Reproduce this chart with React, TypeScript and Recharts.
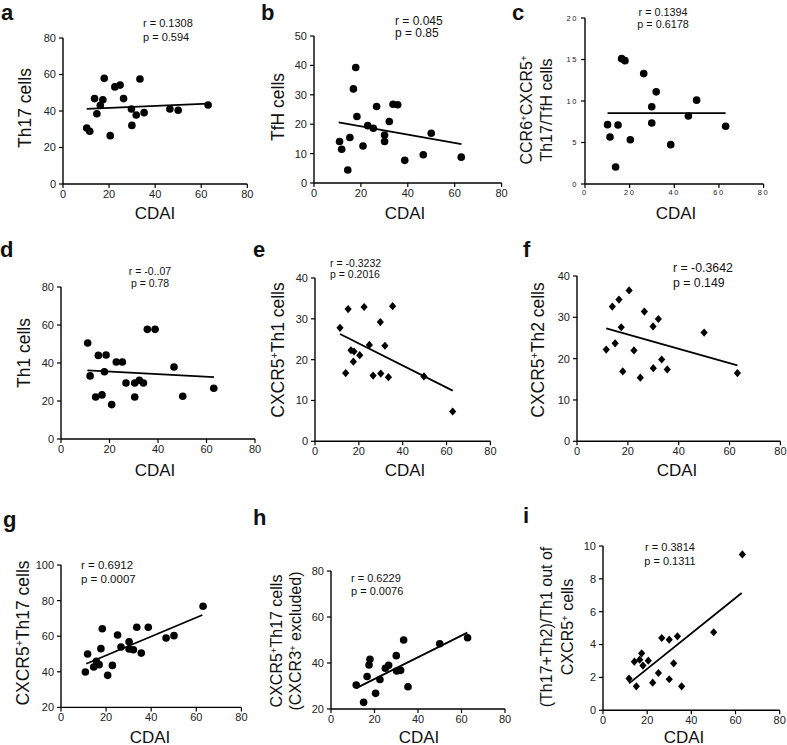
import React from 'react';
import { ScatterChart, Scatter, XAxis, YAxis, ZAxis, ReferenceLine } from 'recharts';

// ---------- data ----------
const cdaiA = [10.3, 11.6, 13.7, 14.7, 16.2, 17.3, 17.9, 20.5, 22.5, 24.8, 26.3, 29.7, 29.9, 31.8, 33.4, 35.2, 46.4, 50.0, 63.0];
const th17A = [30.7, 28.9, 46.8, 38.5, 43.1, 46.2, 57.9, 26.5, 53.2, 54.2, 46.8, 41.1, 32.1, 37.8, 57.5, 39.1, 41.1, 40.4, 43.3];
const fitA = [[10.3, 41.2], [63.0, 44.0]];

const cdaiB = [10.9, 11.8, 14.4, 15.3, 16.8, 17.8, 18.3, 20.9, 22.9, 25.3, 26.7, 30.1, 30.1, 32.1, 33.7, 35.7, 38.7, 46.6, 50.0, 62.8];
const tfhB = [14.1, 11.5, 4.4, 15.5, 32.0, 39.3, 22.6, 12.6, 19.5, 18.6, 26.0, 16.3, 14.1, 20.9, 26.8, 26.6, 7.7, 9.6, 16.9, 8.8];
const fitB = [[10.5, 20.6], [62.9, 13.2]];

const cdaiC = [10.1, 11.2, 13.7, 14.8, 16.4, 17.9, 20.3, 26.3, 29.9, 29.9, 31.9, 38.4, 46.3, 50.0, 63.0];
const ratioC = [7.15, 5.66, 2.05, 7.1, 15.1, 14.86, 5.34, 13.3, 9.3, 7.35, 11.1, 4.74, 8.2, 10.1, 6.95];
const fitC = [[10.1, 8.55], [63.0, 8.55]];

const cdaiD = [11.0, 12.0, 14.3, 15.4, 16.9, 17.9, 18.6, 20.9, 22.8, 25.3, 26.8, 30.4, 30.4, 32.3, 34.0, 35.6, 38.8, 46.6, 50.2, 63.0];
const th1D = [50.5, 33.2, 22.1, 44.0, 23.2, 35.4, 44.2, 18.1, 40.5, 40.5, 29.5, 29.5, 22.1, 30.9, 29.5, 57.7, 57.7, 37.9, 22.5, 26.7];
const fitD = [[10.9, 36.1], [63.1, 32.6]];

const cdaiE = [11.4, 14.0, 15.1, 16.4, 17.8, 17.5, 20.4, 22.4, 24.8, 26.5, 29.8, 30.0, 31.9, 33.5, 35.4, 49.7, 62.8];
const th1E = [27.8, 16.7, 32.4, 22.3, 22.0, 19.5, 21.1, 32.9, 23.6, 16.1, 29.2, 16.6, 23.4, 15.7, 33.1, 15.9, 7.3];
const fitE = [[11.4, 26.3], [62.8, 12.4]];

const cdaiF = [11.5, 13.9, 15.0, 16.5, 17.4, 18.0, 20.5, 22.4, 24.9, 26.5, 29.9, 30.0, 32.0, 33.3, 35.5, 50.0, 63.1];
const th2F = [22.2, 32.6, 23.7, 34.3, 27.6, 16.9, 36.5, 22.0, 15.4, 31.4, 27.8, 17.7, 29.6, 19.8, 17.4, 26.3, 16.5];
const fitF = [[11.5, 27.3], [63.1, 18.4]];

const cdaiG = [10.8, 11.8, 14.5, 15.7, 16.9, 17.7, 18.3, 20.7, 22.8, 25.1, 26.6, 30.2, 30.2, 32.1, 33.6, 35.6, 38.7, 46.6, 50.1, 63.0];
const th17G = [39.9, 50.0, 42.7, 45.9, 44.0, 53.0, 64.2, 38.0, 43.6, 60.7, 53.9, 56.9, 52.8, 52.4, 65.0, 50.5, 65.0, 59.0, 60.3, 76.8];
const fitG = [[11.2, 44.5], [62.7, 71.9]];

const cdaiH = [11.6, 15.0, 16.6, 17.5, 17.9, 20.5, 22.5, 25.0, 26.5, 30.0, 30.2, 32.0, 33.4, 35.4, 50.0, 62.8];
const th17H = [30.4, 22.9, 34.1, 39.1, 41.6, 26.8, 32.8, 37.7, 39.0, 43.2, 36.5, 36.8, 50.0, 29.7, 48.4, 51.0];
const fitH = [[11.6, 29.1], [62.7, 53.2]];

const cdaiI = [11.8, 14.2, 15.1, 16.6, 17.5, 18.1, 20.5, 22.5, 25.1, 26.6, 30.0, 30.0, 32.0, 33.7, 35.6, 50.1, 63.1];
const ratioI = [1.93, 2.96, 1.46, 3.08, 3.47, 2.72, 3.02, 1.68, 2.27, 4.40, 4.30, 1.89, 2.86, 4.50, 1.46, 4.75, 9.49];
const fitI = [[11.8, 1.64], [62.8, 7.14]];

const xTicks = [0, 20, 40, 60, 80];
const ticks0to80 = [0, 20, 40, 60, 80];
const ticks0to50 = [0, 10, 20, 30, 40, 50];
const ticks0to20 = [0, 5, 10, 15, 20];
const ticks0to40 = [0, 10, 20, 30, 40];
const ticks20to100 = [20, 40, 60, 80, 100];
const ticks20to80 = [20, 40, 60, 80];
const ticks0to10 = [0, 2, 4, 6, 8, 10];

const FONT = '"Liberation Sans", Arial, Helvetica, sans-serif';

const zip = (xs: number[], ys: number[]) => xs.map((x, i) => ({ x, y: ys[i] }));

const CircleShape = (p: any) => <circle cx={p.cx} cy={p.cy} r={3.8} fill="#000" />;
const DiamondShape = (p: any) => (
  <polygon
    points={`${p.cx},${p.cy - 4.1} ${p.cx + 3.6},${p.cy} ${p.cx},${p.cy + 4.1} ${p.cx - 3.6},${p.cy}`}
    fill="#000"
  />
);

type PanelProps = {
  l: number; t: number; w: number; h: number;
  xs: number[]; ys: number[]; fit: number[][];
  yDomain: [number, number]; yTicks: number[];
  diamond?: boolean; small?: boolean;
};

function Panel({ l, t, w, h, xs, ys, fit, yDomain, yTicks, diamond, small }: PanelProps) {
  const YW = 45, XH = 30, MT = 10, MR = 12;
  const tickStyle = small
    ? { fontSize: 7.5, fill: '#222', fontFamily: FONT, letterSpacing: 1.6 }
    : { fontSize: 11, fill: '#222', fontFamily: FONT };
  return (
    <div style={{ position: 'absolute', left: l - YW, top: t - MT }}>
      <ScatterChart width={w + YW + MR} height={h + MT + XH} margin={{ top: MT, right: MR, bottom: 0, left: 0 }}>
        <XAxis
          type="number" dataKey="x" domain={[0, 80]} ticks={xTicks} height={XH}
          axisLine={{ stroke: '#000', strokeWidth: 1.4 }} tickLine={{ stroke: '#000', strokeWidth: 1.2 }}
          tickSize={4} tickMargin={2} tick={tickStyle} interval={0}
        />
        <YAxis
          type="number" dataKey="y" domain={yDomain} ticks={yTicks} width={YW}
          axisLine={{ stroke: '#000', strokeWidth: 1.4 }} tickLine={{ stroke: '#000', strokeWidth: 1.2 }}
          tickSize={4} tickMargin={3} tick={tickStyle} interval={0}
        />
        <ZAxis range={[40, 40]} />
        <ReferenceLine
          segment={[{ x: fit[0][0], y: fit[0][1] }, { x: fit[1][0], y: fit[1][1] }]}
          stroke="#000" strokeWidth={1.8} ifOverflow="visible"
        />
        <Scatter data={zip(xs, ys)} fill="#000" shape={diamond ? DiamondShape : CircleShape} isAnimationActive={false} />
      </ScatterChart>
    </div>
  );
}

const abs = (x: number, y: number, extra: React.CSSProperties = {}): React.CSSProperties => ({
  position: 'absolute', left: x, top: y, whiteSpace: 'nowrap', fontFamily: FONT, color: '#111', lineHeight: 1, ...extra,
});

// centered text
const C = ({ x, y, size, children, bold }: any) => (
  <div style={abs(x, y, { fontSize: size, transform: 'translate(-50%,-50%)', fontWeight: bold ? 700 : 400 })}>{children}</div>
);
// left-aligned, vertically centered
const L = ({ x, y, size, children, bold }: any) => (
  <div style={abs(x, y, { fontSize: size, transform: 'translate(0,-50%)', fontWeight: bold ? 700 : 400 })}>{children}</div>
);
// rotated y label
const R = ({ x, y, size, children }: any) => (
  <div style={abs(x, y, { fontSize: size, transform: 'translate(-50%,-50%) rotate(-90deg)' })}>{children}</div>
);
const Sup = () => <sup style={{ fontSize: '0.6em', verticalAlign: '0.55em', lineHeight: 0 }}>+</sup>;

export default function App() {
  return (
    <div style={{ position: 'absolute', left: 0, top: 0, width: 787, height: 745, background: '#fff', overflow: 'hidden', fontFamily: FONT }}>
      <Panel l={62.7} t={38} w={184.3} h={146} xs={cdaiA} ys={th17A} fit={fitA} yDomain={[0, 80]} yTicks={ticks0to80} />
      <Panel l={313.7} t={35.7} w={187.6} h={147} xs={cdaiB} ys={tfhB} fit={fitB} yDomain={[0, 50]} yTicks={ticks0to50} />
      <Panel l={584.7} t={17.7} w={178.6} h={166} xs={cdaiC} ys={ratioC} fit={fitC} yDomain={[0, 20]} yTicks={ticks0to20} small />
      <Panel l={61} t={287.3} w={194} h={152} xs={cdaiD} ys={th1D} fit={fitD} yDomain={[0, 80]} yTicks={ticks0to80} />
      <Panel l={315.3} t={277.7} w={175.4} h={163.3} xs={cdaiE} ys={th1E} fit={fitE} yDomain={[0, 40]} yTicks={ticks0to40} diamond />
      <Panel l={577.3} t={275.7} w={203.4} h={165.3} xs={cdaiF} ys={th2F} fit={fitF} yDomain={[0, 40]} yTicks={ticks0to40} diamond />
      <Panel l={61.3} t={565.3} w={180.4} h={142.4} xs={cdaiG} ys={th17G} fit={fitG} yDomain={[20, 100]} yTicks={ticks20to100} />
      <Panel l={331.3} t={571} w={174} h={138} xs={cdaiH} ys={th17H} fit={fitH} yDomain={[20, 80]} yTicks={ticks20to80} />
      <Panel l={603} t={545.7} w={176.7} h={164.3} xs={cdaiI} ys={ratioI} fit={fitI} yDomain={[0, 10]} yTicks={ticks0to10} diamond />

      {/* panel letters */}
      <L x={1} y={13} size={22} bold>a</L>
      <L x={261} y={13} size={22} bold>b</L>
      <L x={512} y={13} size={22} bold>c</L>
      <L x={0} y={250} size={22} bold>d</L>
      <L x={253} y={250} size={22} bold>e</L>
      <L x={523} y={250} size={22} bold>f</L>
      <L x={3} y={520} size={22} bold>g</L>
      <L x={253} y={518} size={22} bold>h</L>
      <L x={523} y={516} size={22} bold>i</L>

      {/* x labels */}
      <C x={155} y={213} size={17}>CDAI</C>
      <C x={405} y={213} size={17}>CDAI</C>
      <C x={676} y={213} size={17}>CDAI</C>
      <C x={155} y={470} size={17}>CDAI</C>
      <C x={405} y={470} size={17}>CDAI</C>
      <C x={677} y={470} size={17}>CDAI</C>
      <C x={150} y={737} size={17}>CDAI</C>
      <C x={419} y={737} size={17}>CDAI</C>
      <C x={684} y={737} size={17}>CDAI</C>

      {/* y labels */}
      <R x={26} y={108} size={17.5}>Th17 cells</R>
      <R x={279} y={107} size={17.5}>TfH cells</R>
      <R x={527} y={110} size={16}>CCR6<Sup />CXCR5<Sup /></R>
      <R x={547} y={110} size={16}>Th17/TfH cells</R>
      <R x={25} y={353} size={17.5}>Th1 cells</R>
      <R x={279} y={350} size={17.5}>CXCR5<Sup />Th1 cells</R>
      <R x={539} y={350} size={17.5}>CXCR5<Sup />Th2 cells</R>
      <R x={24} y={633} size={17.5}>CXCR5<Sup />Th17 cells</R>
      <R x={277} y={641} size={16}>CXCR5<Sup />Th17 cells</R>
      <R x={296} y={641} size={16}>(CXCR3<Sup /> excluded)</R>
      <R x={547} y={627} size={16}>(Th17+Th2)/Th1 out of</R>
      <R x={568} y={627} size={16}>CXCR5<Sup /> cells</R>

      {/* statistics */}
      <L x={143} y={23.3} size={11}>r = 0.1308</L>
      <L x={143} y={36.7} size={11}>p = 0.594</L>
      <L x={395} y={20.7} size={12}>r = 0.045</L>
      <L x={395} y={33.3} size={12}>p = 0.85</L>
      <C x={663} y={11.7} size={10.8}>r = 0.1394</C>
      <C x={663} y={24} size={10.8}>p = 0.6178</C>
      <C x={150} y={271} size={10.5}>r = -0..07</C>
      <C x={150} y={282.7} size={10.5}>p = 0.78</C>
      <L x={330} y={262.7} size={10.5}>r = -0.3232</L>
      <L x={330} y={274.3} size={10.5}>p = 0.2016</L>
      <L x={673} y={267.7} size={12.3}>r = -0.3642</L>
      <L x={673} y={282.7} size={12.3}>p = 0.149</L>
      <L x={81} y={566} size={11.5}>r = 0.6912</L>
      <L x={81} y={580} size={11.5}>p = 0.0007</L>
      <L x={351} y={578.3} size={11}>r = 0.6229</L>
      <L x={351} y={590.7} size={11}>p = 0.0076</L>
      <C x={670} y={547.3} size={11}>r = 0.3814</C>
      <C x={670} y={560.7} size={11}>p = 0.1311</C>
    </div>
  );
}
